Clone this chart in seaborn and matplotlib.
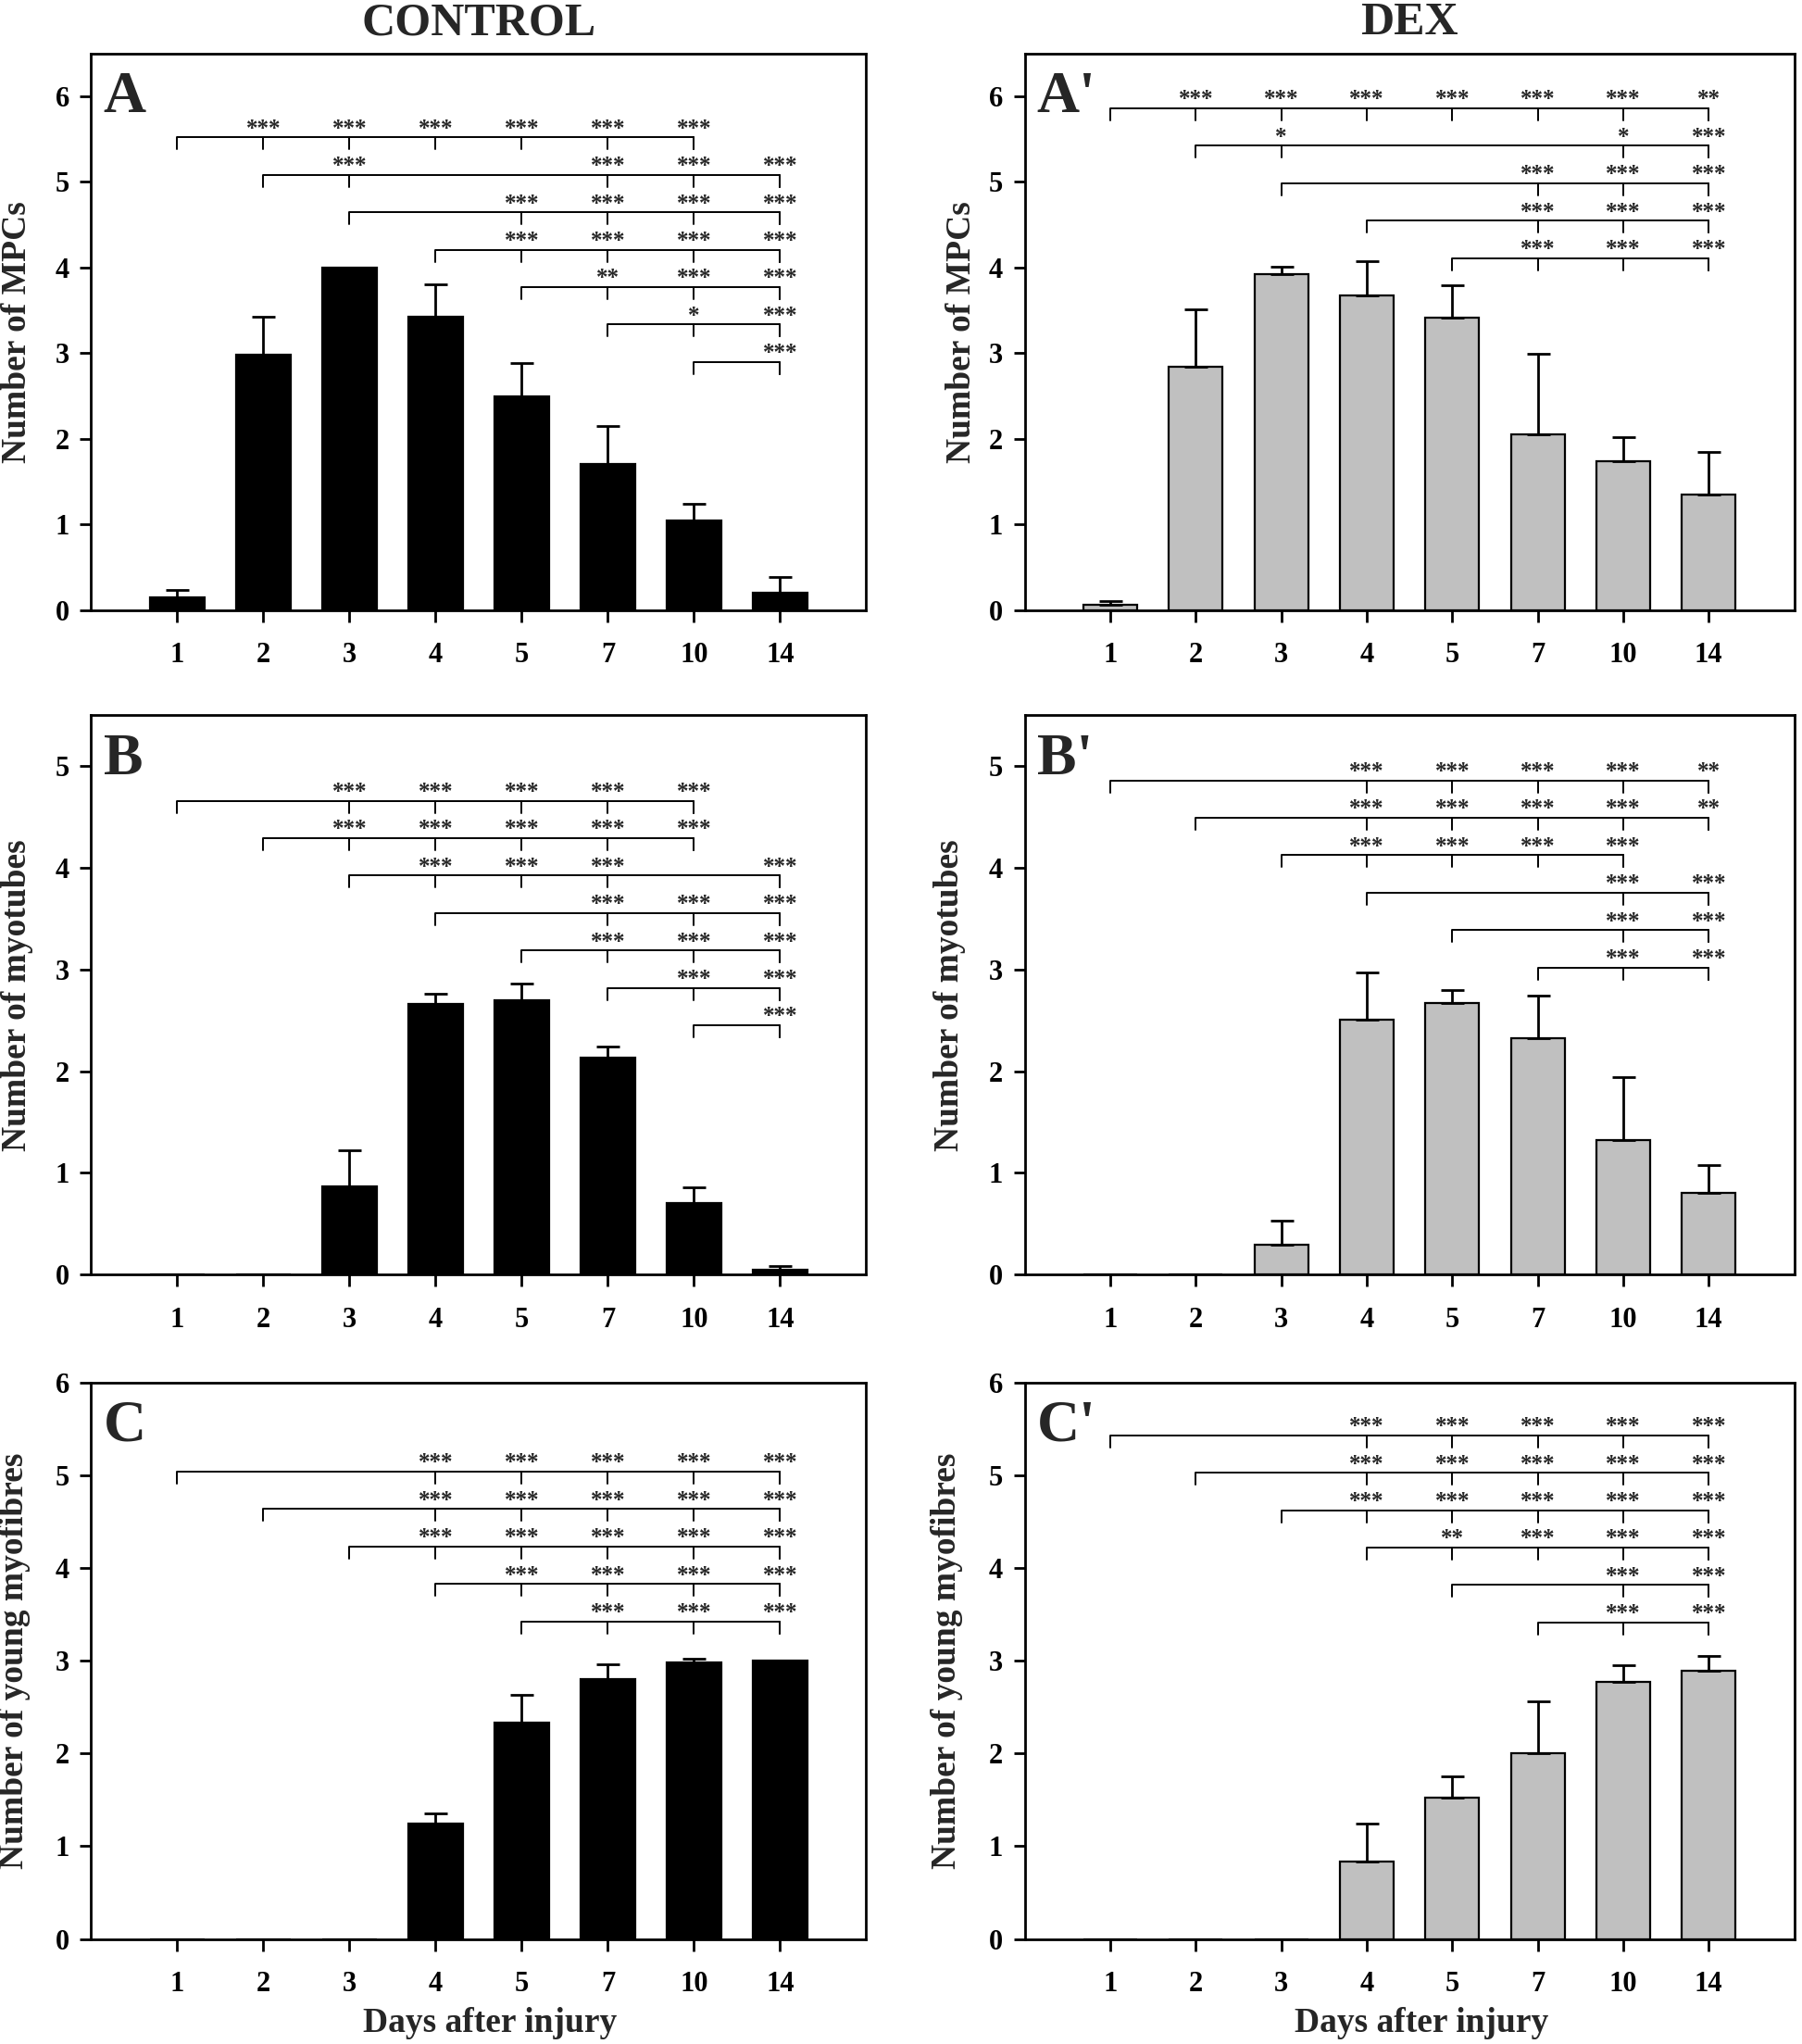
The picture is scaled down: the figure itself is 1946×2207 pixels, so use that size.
import matplotlib
matplotlib.use('Agg')
import matplotlib.pyplot as plt
import seaborn as sns
import pandas as pd

days = ['1', '2', '3', '4', '5', '7', '10', '14']

# Number of MPCs
mpc_ctrl = [0.15, 2.98, 4.00, 3.42, 2.49, 1.71, 1.04, 0.20]
mpc_ctrl_err = [0.08, 0.44, 0.0, 0.38, 0.39, 0.44, 0.20, 0.19]
mpc_dex = [0.06, 2.84, 3.92, 3.67, 3.41, 2.05, 1.74, 1.35]
mpc_dex_err = [0.04, 0.67, 0.09, 0.40, 0.38, 0.94, 0.28, 0.50]

# Number of myotubes
myo_ctrl = [0, 0, 0.87, 2.66, 2.70, 2.13, 0.70, 0.05]
myo_ctrl_err = [0, 0, 0.35, 0.10, 0.16, 0.11, 0.16, 0.03]
myo_dex = [0, 0, 0.29, 2.51, 2.67, 2.32, 1.32, 0.80]
myo_dex_err = [0, 0, 0.24, 0.46, 0.13, 0.42, 0.62, 0.28]

# Number of young myofibres
fib_ctrl = [0, 0, 0, 1.24, 2.33, 2.80, 2.98, 3.00]
fib_ctrl_err = [0, 0, 0, 0.11, 0.30, 0.16, 0.04, 0.0]
fib_dex = [0, 0, 0, 0.83, 1.52, 2.00, 2.77, 2.89]
fib_dex_err = [0, 0, 0, 0.41, 0.23, 0.56, 0.18, 0.16]

# significance brackets: (from day, to day, {day: stars})
sig_mpc_ctrl = [
    ('1', '10', {'2': '***', '3': '***', '4': '***', '5': '***', '7': '***', '10': '***'}),
    ('2', '14', {'3': '***', '7': '***', '10': '***', '14': '***'}),
    ('3', '14', {'5': '***', '7': '***', '10': '***', '14': '***'}),
    ('4', '14', {'5': '***', '7': '***', '10': '***', '14': '***'}),
    ('5', '14', {'7': '**', '10': '***', '14': '***'}),
    ('7', '14', {'10': '*', '14': '***'}),
    ('10', '14', {'14': '***'}),
]
sig_mpc_dex = [
    ('1', '14', {'2': '***', '3': '***', '4': '***', '5': '***', '7': '***', '10': '***', '14': '**'}),
    ('2', '14', {'3': '*', '10': '*', '14': '***'}),
    ('3', '14', {'7': '***', '10': '***', '14': '***'}),
    ('4', '14', {'7': '***', '10': '***', '14': '***'}),
    ('5', '14', {'7': '***', '10': '***', '14': '***'}),
]
sig_myo_ctrl = [
    ('1', '10', {'3': '***', '4': '***', '5': '***', '7': '***', '10': '***'}),
    ('2', '10', {'3': '***', '4': '***', '5': '***', '7': '***', '10': '***'}),
    ('3', '14', {'4': '***', '5': '***', '7': '***', '14': '***'}),
    ('4', '14', {'7': '***', '10': '***', '14': '***'}),
    ('5', '14', {'7': '***', '10': '***', '14': '***'}),
    ('7', '14', {'10': '***', '14': '***'}),
    ('10', '14', {'14': '***'}),
]
sig_myo_dex = [
    ('1', '14', {'4': '***', '5': '***', '7': '***', '10': '***', '14': '**'}),
    ('2', '14', {'4': '***', '5': '***', '7': '***', '10': '***', '14': '**'}),
    ('3', '10', {'4': '***', '5': '***', '7': '***', '10': '***'}),
    ('4', '14', {'10': '***', '14': '***'}),
    ('5', '14', {'10': '***', '14': '***'}),
    ('7', '14', {'10': '***', '14': '***'}),
]
sig_fib_ctrl = [
    ('1', '14', {'4': '***', '5': '***', '7': '***', '10': '***', '14': '***'}),
    ('2', '14', {'4': '***', '5': '***', '7': '***', '10': '***', '14': '***'}),
    ('3', '14', {'4': '***', '5': '***', '7': '***', '10': '***', '14': '***'}),
    ('4', '14', {'5': '***', '7': '***', '10': '***', '14': '***'}),
    ('5', '14', {'7': '***', '10': '***', '14': '***'}),
]
sig_fib_dex = [
    ('1', '14', {'4': '***', '5': '***', '7': '***', '10': '***', '14': '***'}),
    ('2', '14', {'4': '***', '5': '***', '7': '***', '10': '***', '14': '***'}),
    ('3', '14', {'4': '***', '5': '***', '7': '***', '10': '***', '14': '***'}),
    ('4', '14', {'5': '**', '7': '***', '10': '***', '14': '***'}),
    ('5', '14', {'10': '***', '14': '***'}),
    ('7', '14', {'10': '***', '14': '***'}),
]

sns.set_style('ticks')
plt.rcParams['font.family'] = ['Liberation Serif', 'DejaVu Serif']
plt.rcParams['font.weight'] = 'bold'

W, H = 1946, 2207
fig = plt.figure(figsize=(W / 100, H / 100), dpi=100)

BLACK = '#000000'
GREY = '#c0c0c0'

# (values, errs, colour, sig, top bracket height, ymax, letter, ylabel, ylabel x, rect, xlabel?)
panels = [
    (mpc_ctrl, mpc_ctrl_err, BLACK, sig_mpc_ctrl, 5.52, 6.5, 'A', 'Number of MPCs', -0.0955,
     [0.0506, 0.7016, 0.4301, 0.2722], False),
    (mpc_dex, mpc_dex_err, GREY, sig_mpc_dex, 5.86, 6.5, "A'", 'Number of MPCs', -0.0826,
     [0.5687, 0.7016, 0.4270, 0.2722], False),
    (myo_ctrl, myo_ctrl_err, BLACK, sig_myo_ctrl, 4.66, 5.5, 'B', 'Number of myotubes', -0.0955,
     [0.0506, 0.3765, 0.4301, 0.2735], False),
    (myo_dex, myo_dex_err, GREY, sig_myo_dex, 4.86, 5.5, "B'", 'Number of myotubes', -0.0972,
     [0.5687, 0.3765, 0.4270, 0.2735], False),
    (fib_ctrl, fib_ctrl_err, BLACK, sig_fib_ctrl, 5.04, 6.0, 'C', 'Number of young myofibres', -0.099,
     [0.0506, 0.0514, 0.4301, 0.2722], True),
    (fib_dex, fib_dex_err, GREY, sig_fib_dex, 5.43, 6.0, "C'", 'Number of young myofibres', -0.101,
     [0.5687, 0.0514, 0.4270, 0.2722], True),
]

for vals, errs, col, sig, top, ymax, letter, ylab, ylx, rect, has_xlabel in panels:
    ax = fig.add_axes(rect)
    df = pd.DataFrame({'day': days, 'value': vals})
    sns.barplot(data=df, x='day', y='value', order=days, color=col, saturation=1,
                width=0.63, edgecolor='black', linewidth=1.6, ax=ax)
    xs = ax.get_xticks()
    pos = dict(zip(days, xs))

    for x, v, e in zip(xs, vals, errs):
        if e > 0:
            ax.errorbar(x, v, yerr=[[0], [e]], fmt='none', ecolor='black',
                        elinewidth=2, capsize=9, capthick=2, zorder=3)

    ax.set_xlim(-1, 8)
    ax.set_ylim(0, ymax)
    ax.set_yticks(range(int(ymax) + 1))

    # brackets are spaced ~40 px apart, with 13 px drops
    ax_h_px = rect[3] * H
    step = 40.4 / ax_h_px * ymax
    drop = 13 / ax_h_px * ymax
    for k, (a, b, stars) in enumerate(sig):
        h = top - k * step
        ax.plot([pos[a], pos[b]], [h, h], color='black', lw=1.4, solid_capstyle='butt')
        for d in [a, b] + list(stars):
            ax.plot([pos[d], pos[d]], [h, h - drop], color='black', lw=1.4)
        for d, s in stars.items():
            ax.text(pos[d], h + 0.2 * drop, s, ha='center', va='baseline',
                    fontsize=18, fontweight='bold')

    for sp in ax.spines.values():
        sp.set_visible(True)
        sp.set_linewidth(2)
        sp.set_color('black')
    ax.tick_params(axis='both', direction='out', length=9, width=2, labelsize=22,
                   top=False, right=False, colors='black')
    ax.tick_params(axis='x', pad=16)
    ax.tick_params(axis='y', pad=8)
    for lab in ax.get_xticklabels() + ax.get_yticklabels():
        lab.set_fontweight('bold')

    ax.set_ylabel(ylab, fontsize=27, fontweight='bold', va='center')
    ax.yaxis.set_label_coords(ylx, 0.5)
    if has_xlabel:
        ax.set_xlabel('Days after injury', fontsize=27, fontweight='bold', va='center')
        ax.xaxis.set_label_coords(0.515, -0.152)
    else:
        ax.set_xlabel('')

    ax.annotate(letter, xy=(0, 1), xycoords='axes fraction', xytext=(9.4, -45.4),
                textcoords='offset points', ha='left', va='baseline',
                fontsize=46, fontweight='bold')

fig.text(0.0506 + 0.4301 / 2, 1 - 37 / H, 'CONTROL', ha='center', va='baseline',
         fontsize=36, fontweight='bold')
fig.text(0.5687 + 0.4270 / 2, 1 - 37 / H, 'DEX', ha='center', va='baseline',
         fontsize=36, fontweight='bold')

fig.savefig('out.png', dpi=100)
